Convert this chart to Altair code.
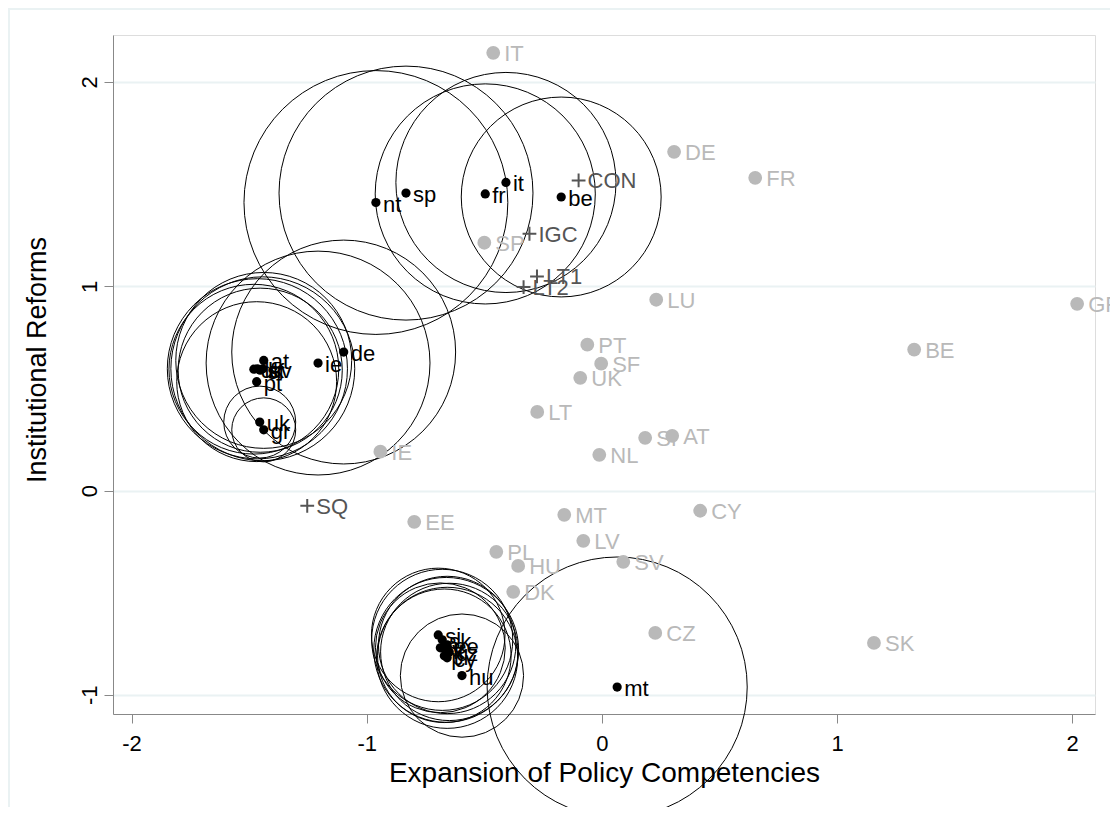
import altair as alt
import pandas as pd

# ---- data ----
ms_codes = ["IT", "DE", "FR", "SP", "LU", "GR", "PT", "BE", "SF", "UK", "LT", "SI", "AT",
            "IE", "NL", "EE", "MT", "CY", "PL", "LV", "HU", "SV", "DK", "CZ", "SK"]
ms_x = [-0.462, 0.307, 0.652, -0.500, 0.231, 2.021, -0.062, 1.328, -0.003, -0.092, -0.275,
        0.184, 0.299, -0.942, -0.011, -0.798, -0.160, 0.418, -0.449, -0.079, -0.356, 0.091,
        -0.377, 0.227, 1.157]
ms_y = [2.143, 1.658, 1.531, 1.213, 0.934, 0.914, 0.714, 0.690, 0.621, 0.552, 0.385,
        0.258, 0.268, 0.190, 0.175, -0.153, -0.119, -0.099, -0.300, -0.246, -0.369, -0.349,
        -0.496, -0.697, -0.746]

grp_codes = ["nt", "sp", "fr", "it", "be", "at", "dk", "lu", "sf", "sv", "pt", "ie", "de",
             "uk", "gr", "si", "sk", "ee", "lv", "lt", "cz", "pl", "cy", "hu", "mt"]
grp_x = [-0.961, -0.833, -0.496, -0.408, -0.173, -1.438, -1.480, -1.465, -1.453, -1.442,
         -1.468, -1.207, -1.098, -1.455, -1.438, -0.696, -0.679, -0.658, -0.687, -0.662,
         -0.649, -0.670, -0.658, -0.595, 0.065]
grp_y = [1.410, 1.456, 1.452, 1.508, 1.437, 0.637, 0.594, 0.596, 0.589, 0.596, 0.533,
         0.624, 0.678, 0.335, 0.297, -0.707, -0.731, -0.756, -0.770, -0.780, -0.790,
         -0.809, -0.819, -0.906, -0.962]
grp_r = [0.561, 0.540, 0.468, 0.468, 0.425, 0.374, 0.361, 0.383, 0.349, 0.391, 0.340,
         0.476, 0.476, 0.153, 0.136, 0.284, 0.300, 0.292, 0.276, 0.308, 0.292, 0.284,
         0.300, 0.262, 0.553]

prop_codes = ["CON", "IGC", "LT1", "LT2", "SQ"]
prop_x = [-0.099, -0.308, -0.276, -0.333, -1.253]
prop_y = [1.518, 1.257, 1.048, 0.996, -0.075]

x_ticks = [-2, -1, 0, 1, 2]
y_ticks = [-1, 0, 1, 2]
x_dom = [-2.079, 2.097]
y_dom = [-1.094, 2.230]

W, H = 982, 679
FONT = "Liberation Sans"
GRID = "#eaf2f3"
GREY = "#b9b9b9"
DARK = "#555555"

ms = pd.DataFrame({"code": ms_codes, "x": ms_x, "y": ms_y})
grp = pd.DataFrame({"code": grp_codes, "x": grp_x, "y": grp_y, "r": grp_r})
grp["r2"] = grp["r"] ** 2
prop = pd.DataFrame({"code": prop_codes, "x": prop_x, "y": prop_y})

ppu = W / (x_dom[1] - x_dom[0])

xs = alt.Scale(domain=x_dom, nice=False, zero=False)
ys = alt.Scale(domain=y_dom, nice=False, zero=False)

X = alt.X("x:Q", scale=xs, axis=alt.Axis(
    values=x_ticks, labelExpr="datum.value + ''",
    title="Expansion of Policy Competencies", grid=False,
    labelFontSize=22, titleFontSize=28, tickSize=9, labelPadding=10,
    titleBaseline="middle", titleY=59, titleFontWeight="normal"))
Y = alt.Y("y:Q", scale=ys, axis=alt.Axis(
    values=y_ticks, labelExpr="datum.value + ''",
    title="Institutional Reforms", grid=True, gridColor=GRID,
    gridWidth=2, labelFontSize=22, titleFontSize=27, tickSize=9, labelPadding=3,
    labelAngle=270, labelAlign="center", labelBaseline="bottom",
    titleAngle=270, titleBaseline="middle", titleX=-76, titleY=H / 2 - 15,
    titleFontWeight="normal"))

base_axes = alt.Chart(ms).mark_point(opacity=0).encode(x=X, y=Y)

frame = alt.Chart(ms).mark_rect(filled=False, stroke=GRID, strokeWidth=2).encode(
    x=alt.value(-104), x2=alt.value(W + 200), y=alt.value(-26), y2=alt.value(H + 200))

circles = alt.Chart(grp).mark_point(shape="circle", filled=False, stroke="black",
                                    strokeWidth=1, opacity=1).encode(
    x=alt.X("x:Q", scale=xs), y=alt.Y("y:Q", scale=ys),
    size=alt.Size("r2:Q", scale=alt.Scale(type="linear", domain=[0, 1],
                                          range=[0, 4 * ppu * ppu]), legend=None))

ms_pts = alt.Chart(ms).mark_point(shape="circle", filled=True, color=GREY, size=190,
                                  opacity=1).encode(x=alt.X("x:Q", scale=xs),
                                                    y=alt.Y("y:Q", scale=ys))
ms_txt = alt.Chart(ms).mark_text(align="left", baseline="middle", dx=11, dy=1,
                                 fontSize=22, color=GREY, font=FONT).encode(
    x=alt.X("x:Q", scale=xs), y=alt.Y("y:Q", scale=ys), text="code:N")

grp_pts = alt.Chart(grp).mark_point(shape="circle", filled=True, color="black", size=85,
                                    opacity=1).encode(x=alt.X("x:Q", scale=xs),
                                                      y=alt.Y("y:Q", scale=ys))
grp_txt = alt.Chart(grp).mark_text(align="left", baseline="middle", dx=7, dy=2,
                                   fontSize=22, color="black", font=FONT).encode(
    x=alt.X("x:Q", scale=xs), y=alt.Y("y:Q", scale=ys), text="code:N")

prop_pts = alt.Chart(prop).mark_point(shape="M-1,0H1M0,-1V1", filled=False, stroke=DARK,
                                      strokeWidth=2, size=190, opacity=1).encode(
    x=alt.X("x:Q", scale=xs), y=alt.Y("y:Q", scale=ys))
prop_txt = alt.Chart(prop).mark_text(align="left", baseline="middle", dx=9, dy=1,
                                     fontSize=22, color=DARK, font=FONT).encode(
    x=alt.X("x:Q", scale=xs), y=alt.Y("y:Q", scale=ys), text="code:N")

chart = alt.layer(base_axes, frame, circles, ms_pts, ms_txt, prop_pts, prop_txt,
                  grp_pts, grp_txt).properties(
    width=W, height=H,
    autosize=alt.AutoSizeParams(type="none"),
    padding={"left": 105, "top": 27, "right": 15, "bottom": 93},
).configure_view(stroke=None).configure_axis(
    domainColor="#000000", tickColor="#000000", labelColor="#000000",
    titleColor="#000000", labelFont=FONT, titleFont=FONT, domainWidth=1.2,
    tickWidth=1.2
).configure(background="white")

chart.save("out.html", embed_options={"renderer": "svg", "actions": False})
